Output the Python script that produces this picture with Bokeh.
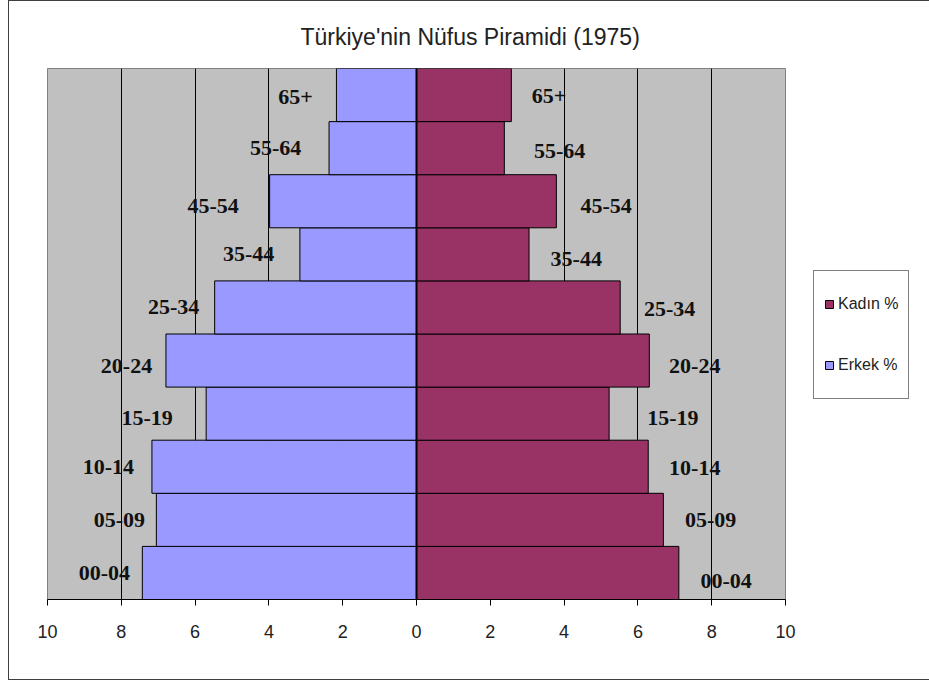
from bokeh.plotting import figure
from bokeh.models import (ColumnDataSource, FactorRange, Range1d, FixedTicker,
                          Legend, LegendItem, Span)
from bokeh.core.properties import value
from bokeh.embed import file_html
from bokeh.resources import INLINE

# ---- data ----
yas_gruplari = ["00-04", "05-09", "10-14", "15-19", "20-24",
                "25-34", "35-44", "45-54", "55-64", "65+"]
erkek = [7.43, 7.05, 7.17, 5.70, 6.79, 5.47, 3.16, 3.98, 2.37, 2.17]   # Erkek %
kadin = [7.11, 6.69, 6.28, 5.22, 6.31, 5.52, 3.05, 3.79, 2.38, 2.57]   # Kadın %
x_ticks = [-10, -8, -6, -4, -2, 0, 2, 4, 6, 8, 10]
tick_labels = ["10", "8", "6", "4", "2", "0", "2", "4", "6", "8", "10"]

# ---- label placement (offset from bar end in data units, vertical shift in px) ----
erkek_lbl_dx = [-1.03, -1.00, -1.18, -1.60, -1.07, -1.11, -1.39, -1.53, -1.45, -1.11]
erkek_lbl_dy = [0.3, 0, 0, 4.2, 5.3, 0, -0.6, 5.2, -0.2, 2.2]
kadin_lbl_dx = [1.28, 1.28, 1.26, 1.73, 1.23, 1.34, 1.28, 1.35, 1.50, 1.02]
kadin_lbl_dy = [8, 0.1, 0.9, 4.2, 5.3, 1.4, 4.7, 4.5, 3.2, 1.2]

p = figure(frame_width=738, frame_height=531,
           x_range=Range1d(-10, 10),
           y_range=FactorRange(factors=yas_gruplari, range_padding=0),
           output_backend="svg", toolbar_location=None,
           min_border_left=38, min_border_right=142,
           min_border_top=67, min_border_bottom=80)
p.styles = {"border": "1px solid #404040", "margin-left": "8px"}

p.background_fill_color = "#C0C0C0"
p.border_fill_color = "white"
p.outline_line_color = "#808080"

# title
p.title.text = "Türkiye'nin Nüfus Piramidi (1975)"
p.title.align = "left"
p.title.offset = 253
p.title.standoff = 37
p.title.text_font = "Liberation Sans"
p.title.text_font_style = "normal"
p.title.text_font_size = "23px"
p.title.text_color = "#222222"

# bars
src_e = ColumnDataSource(dict(y=yas_gruplari, left=[-v for v in erkek]))
src_k = ColumnDataSource(dict(y=yas_gruplari, right=kadin))
r_e = p.hbar(y="y", left="left", right=0, height=1.0, source=src_e,
             fill_color="#9999FF", line_color="black", line_width=1)
r_k = p.hbar(y="y", left=0, right="right", height=1.0, source=src_k,
             fill_color="#993366", line_color="black", line_width=1)

p.add_layout(Span(location=0, dimension="height", line_color="black", line_width=2))

# labels
lbl_e = ColumnDataSource(dict(x=[-v + d for v, d in zip(erkek, erkek_lbl_dx)],
                              y=yas_gruplari, t=yas_gruplari, dy=erkek_lbl_dy))
lbl_k = ColumnDataSource(dict(x=[v + d for v, d in zip(kadin, kadin_lbl_dx)],
                              y=yas_gruplari, t=yas_gruplari, dy=kadin_lbl_dy))
for s in (lbl_e, lbl_k):
    p.text(x="x", y="y", text="t", source=s, y_offset="dy",
           text_font=value("Liberation Serif"), text_font_style="bold",
           text_font_size="22px", text_align="center", text_baseline="middle",
           text_color="#111111")

# axes
p.yaxis.visible = False
p.xaxis.ticker = FixedTicker(ticks=x_ticks)
p.xaxis.major_label_overrides = dict(zip(x_ticks, tick_labels))
p.xaxis.axis_line_color = "black"
p.xaxis.major_tick_line_color = "black"
p.xaxis.major_tick_out = 6
p.xaxis.major_tick_in = 0
p.xaxis.minor_tick_line_color = None
p.xaxis.major_label_standoff = 19
p.xaxis.major_label_text_font = "Liberation Sans"
p.xaxis.major_label_text_font_size = "18px"
p.xaxis.major_label_text_color = "#222222"

# grid
p.ygrid.visible = False
p.xgrid.ticker = FixedTicker(ticks=[-8, -6, -4, -2, 2, 4, 6, 8])
p.xgrid.grid_line_color = "black"
p.xgrid.grid_line_width = 1

# legend
legend = Legend(items=[LegendItem(label="Kadın %", renderers=[r_k]),
                       LegendItem(label="Erkek %", renderers=[r_e])],
                location=(28, 200), margin=0, padding=10, spacing=15,
                glyph_width=10, glyph_height=10, label_height=46,
                label_standoff=4, border_line_color="black", border_line_width=1,
                background_fill_color="white", background_fill_alpha=1,
                label_text_font="Liberation Sans", label_text_font_size="16px",
                label_text_color="#222222")
p.add_layout(legend, "right")

open("out.html", "w").write(file_html(p, INLINE))
